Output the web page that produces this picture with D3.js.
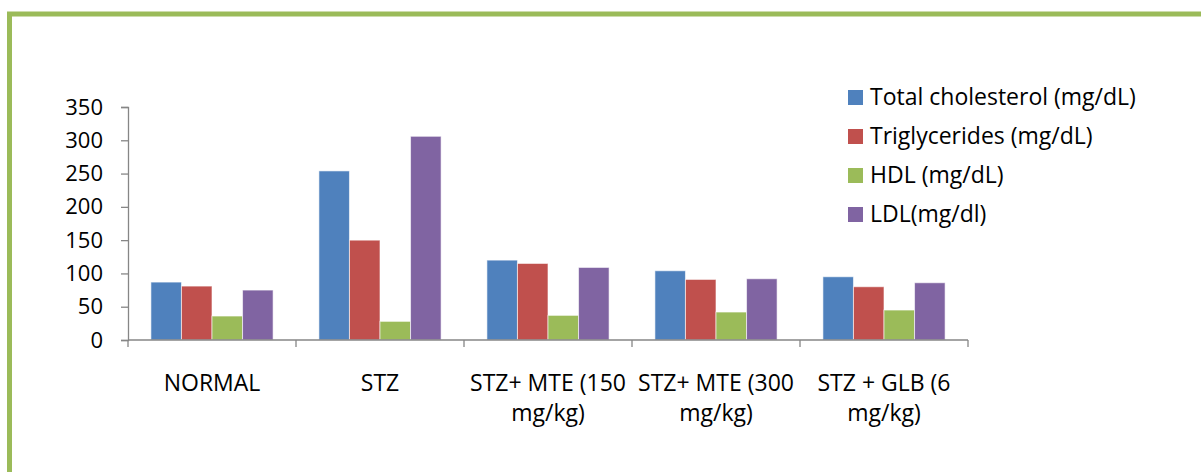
<!DOCTYPE html>
<html>
<head>
<meta charset="utf-8">
<script src="https://cdn.jsdelivr.net/npm/d3@7"></script>
<style>
	body { margin: 0; background: #fff; }
	text { font-family: 'Open Sans', sans-serif; fill: #000; }
</style>
</head>
<body>
<div id="chart"></div>
<script>
const categories = [
	'NORMAL',
	'STZ',
	'STZ+ MTE (150 mg/kg)',
	'STZ+ MTE (300 mg/kg)',
	'STZ + GLB (6 mg/kg)',
]
const series = [
	'Total cholesterol (mg/dL)',
	'Triglycerides (mg/dL)',
	'HDL (mg/dL)',
	'LDL(mg/dl)',
]
const totalCholesterol = [87, 254, 120, 104, 95]
const triglycerides = [81, 150, 115, 91, 80]
const hdl = [36, 28, 37, 42, 45]
const ldl = [75, 306, 109, 92, 86]
const yTicks = [0, 50, 100, 150, 200, 250, 300, 350]

const colors = ['#4f81bd', '#c0504d', '#9bbb59', '#8064a2']

const fullWidth = 1201
const fullHeight = 472
const margin = {top: 107, right: 233, bottom: 132, left: 128}
const width = fullWidth - margin.left - margin.right
const height = fullHeight - margin.top - margin.bottom

const values = [totalCholesterol, triglycerides, hdl, ldl]
const rows = categories.map((c, i) => ({
	category: c,
	bars: series.map((s, j) => ({series: s, value: values[j][i], color: colors[j]})),
}))

const svg = d3
	.select('#chart')
	.append('svg')
	.attr('width', fullWidth)
	.attr('height', fullHeight)
	.style('display', 'block')

// green frame
svg
	.append('rect')
	.attr('x', 9.5)
	.attr('y', 14)
	.attr('width', 1400)
	.attr('height', 700)
	.attr('fill', 'none')
	.attr('stroke', '#9bbb59')
	.attr('stroke-width', 5)

const g = svg
	.append('g')
	.attr('transform', `translate(${margin.left}, ${margin.top})`)

const x0 = d3.scaleBand().domain(categories).range([0, width]).padding(0)
const x1 = d3
	.scaleBand()
	.domain(series)
	.range([0, x0.bandwidth()])
	.paddingInner(0)
	.paddingOuter(0.75)
const y = d3.scaleLinear().domain([0, 350]).range([height, 0])

// y axis
const yAxis = g
	.append('g')
	.call(d3.axisLeft(y).tickValues(yTicks).tickSize(7).tickPadding(18))
yAxis.select('.domain').attr('stroke', '#868686').attr('stroke-width', 1.3)
yAxis.selectAll('.tick line').attr('stroke', '#868686').attr('stroke-width', 1.3)
yAxis
	.selectAll('.tick text')
	.style('font-size', '22px')
	.attr('font-family', null)

// bars
const group = g
	.selectAll('.group')
	.data(rows)
	.enter()
	.append('g')
	.attr('transform', (d) => `translate(${x0(d.category)}, 0)`)
group
	.selectAll('rect')
	.data((d) => d.bars)
	.enter()
	.append('rect')
	.attr('x', (d) => x1(d.series))
	.attr('y', (d) => y(d.value))
	.attr('width', x1.bandwidth())
	.attr('height', (d) => height - y(d.value))
	.attr('fill', (d) => d.color)
	.attr('stroke', 'rgba(255,255,255,0.6)')
	.attr('stroke-width', 1)

// x axis
const boundaries = categories.map((c) => x0(c)).concat([width])
const xAxis = g.append('g').attr('transform', `translate(0, ${height})`)
xAxis
	.append('line')
	.attr('x1', 0)
	.attr('x2', width)
	.attr('stroke', '#868686')
	.attr('stroke-width', 1.3)
xAxis
	.selectAll('.tickmark')
	.data(boundaries)
	.enter()
	.append('line')
	.attr('x1', (d) => d)
	.attr('x2', (d) => d)
	.attr('y1', 0)
	.attr('y2', 7)
	.attr('stroke', '#868686')
	.attr('stroke-width', 1.3)
const label = xAxis
	.selectAll('.label')
	.data(categories)
	.enter()
	.append('text')
	.attr('text-anchor', 'middle')
	.attr('transform', (d) => `translate(${x0(d) + x0.bandwidth() / 2}, 51)`)
	.style('font-size', '23px')
label
	.selectAll('tspan')
	.data((d) => d.replace(' mg/kg)', '\nmg/kg)').split('\n'))
	.enter()
	.append('tspan')
	.attr('x', 0)
	.attr('y', (d, i) => i * 30)
	.text((d) => d)

// legend
const legend = svg
	.append('g')
	.attr('transform', 'translate(848, 97)')
const item = legend
	.selectAll('g')
	.data(series)
	.enter()
	.append('g')
	.attr('transform', (d, i) => `translate(0, ${i * 39})`)
item
	.append('rect')
	.attr('x', 0)
	.attr('y', -7)
	.attr('width', 15)
	.attr('height', 15)
	.attr('fill', (d, i) => colors[i])
item
	.append('text')
	.attr('x', 22)
	.attr('y', 0)
	.attr('dy', '0.35em')
	.style('font-size', '23px')
	.text((d) => d)
</script>
</body>
</html>
